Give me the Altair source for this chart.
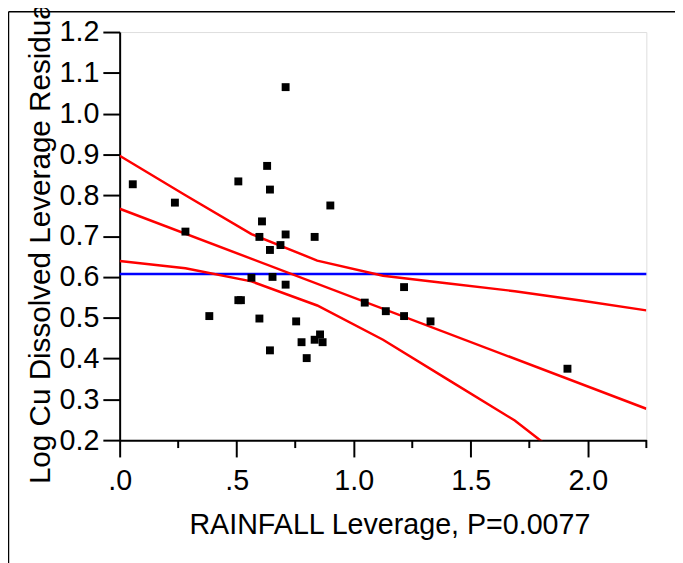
import altair as alt
import pandas as pd

# ---- data ----
pt_x = [0.709, 0.056, 0.630, 0.507, 0.642, 0.236, 0.900, 0.281, 0.608, 0.597,
        0.709, 0.833, 0.687, 0.642, 0.563, 0.653, 0.709, 0.507, 0.518, 0.383,
        0.597, 0.754, 0.642, 0.777, 0.833, 0.856, 0.867, 0.799, 1.047, 1.137,
        1.215, 1.215, 1.328, 1.913]
pt_y = [1.065, 0.827, 0.872, 0.834, 0.814, 0.782, 0.775, 0.711, 0.736, 0.698,
        0.704, 0.698, 0.678, 0.666, 0.598, 0.600, 0.581, 0.543, 0.543, 0.504,
        0.498, 0.491, 0.420, 0.440, 0.446, 0.459, 0.440, 0.401, 0.537, 0.516,
        0.575, 0.504, 0.491, 0.375]

fit_x = [0.0, 2.25]
fit_y = [0.767, 0.277]

ci_x = [0.0, 0.281, 0.563, 0.844, 1.125, 1.406, 1.688, 1.969, 2.25]
ci_upper = [0.897, 0.800, 0.705, 0.640, 0.603, 0.584, 0.565, 0.542, 0.518]
ci_lower = [0.639, 0.621, 0.589, 0.530, 0.446, 0.347, 0.248, 0.123, 0.035]

mean_y = 0.607

x_tick_values = [0.0, 0.5, 1.0, 1.5, 2.0]
x_tick_labels = [".0", ".5", "1.0", "1.5", "2.0"]
x_minor_ticks = [0.25, 0.75, 1.25, 1.75, 2.25]
y_tick_values = [0.2, 0.3, 0.4, 0.5, 0.6, 0.7, 0.8, 0.9, 1.0, 1.1, 1.2]

x_title = "RAINFALL Leverage, P=0.0077"
y_title = "Log Cu Dissolved Leverage Residual"

FONT = "Liberation Sans, Arial, sans-serif"
W, H = 533, 413

label_expr = ""
for v, lab in zip(x_tick_values, x_tick_labels):
    label_expr += f"abs(datum.value - {v}) < 1e-6 ? '{lab}' : "
label_expr += "format(datum.value, '.1f')"

xscale = alt.Scale(domain=[0, 2.25], nice=False, zero=False)
yscale = alt.Scale(domain=[0.2, 1.2], nice=False, zero=False)

xaxis = alt.Axis(values=x_tick_values, labelExpr=label_expr, title=x_title,
                 tickSize=17, tickWidth=2, domainWidth=2, domainColor="black",
                 tickColor="black", labelFontSize=29, labelFont=FONT,
                 labelColor="black", labelPadding=10, grid=False,
                 titleFontSize=29, titleFont=FONT, titleFontWeight="normal",
                 titleColor="black", titleX=273, titleY=94,
                 titleAlign="center", titleBaseline="alphabetic",
                 labelFlush=False, labelOverlap=False)
yaxis = alt.Axis(values=y_tick_values, format=".1f", title=y_title,
                 tickSize=17, tickWidth=2, domainWidth=2, domainColor="black",
                 tickColor="black", labelFontSize=29, labelFont=FONT,
                 labelColor="black", labelPadding=4, grid=False,
                 titleFontSize=30, titleFont=FONT, titleFontWeight="normal",
                 titleColor="black", titleX=-71, titleY=457, titleAngle=270,
                 titleAlign="left", titleBaseline="alphabetic",
                 labelFlush=False, labelOverlap=False)

pts = pd.DataFrame({"x": pt_x, "y": pt_y})
fit = pd.DataFrame({"x": fit_x, "y": fit_y})
ci = pd.concat([
    pd.DataFrame({"x": ci_x, "y": ci_upper, "curve": "upper"}),
    pd.DataFrame({"x": ci_x, "y": ci_lower, "curve": "lower"}),
])
mean_df = pd.DataFrame({"y": [mean_y]})
minor_df = pd.DataFrame({"x": x_minor_ticks})

points = alt.Chart(pts).mark_square(size=64, color="black", opacity=1).encode(
    x=alt.X("x:Q", scale=xscale, axis=xaxis),
    y=alt.Y("y:Q", scale=yscale, axis=yaxis),
)

mean_line = alt.Chart(mean_df).mark_rule(color="#0000ff", strokeWidth=2.5).encode(
    y=alt.Y("y:Q", scale=yscale),
)

fit_line = alt.Chart(fit).mark_line(color="#ff0000", strokeWidth=2.5, clip=True).encode(
    x=alt.X("x:Q", scale=xscale), y=alt.Y("y:Q", scale=yscale),
)

ci_lines = alt.Chart(ci).mark_line(color="#ff0000", strokeWidth=2.5, clip=True).encode(
    x=alt.X("x:Q", scale=xscale), y=alt.Y("y:Q", scale=yscale),
    detail="curve:N",
)

minor = alt.Chart(minor_df).mark_rule(color="black", strokeWidth=2).encode(
    x=alt.X("x:Q", scale=xscale),
    y=alt.value(H), y2=alt.value(H + 8),
)

frame_df = alt.Data(values=[{"a": 1}])
frame_left = alt.Chart(frame_df).mark_rule(color="black", strokeWidth=1.5).encode(
    x=alt.value(-112.5), y=alt.value(-20.5), y2=alt.value(H + 125),
)
frame_top = alt.Chart(frame_df).mark_rule(color="black", strokeWidth=1.5).encode(
    y=alt.value(-20.5), x=alt.value(-112.5), x2=alt.value(W + 40),
)

chart = alt.layer(
    mean_line, ci_lines, fit_line, points, minor, frame_left, frame_top
).properties(
    width=W, height=H,
    autosize=alt.AutoSizeParams(type="none"),
    padding={"left": 113, "top": 21, "right": 29, "bottom": 121},
).configure_view(
    stroke="black", strokeWidth=2,
).configure(background="white")

chart.save("out.html", embed_options={"renderer": "svg", "actions": False})
